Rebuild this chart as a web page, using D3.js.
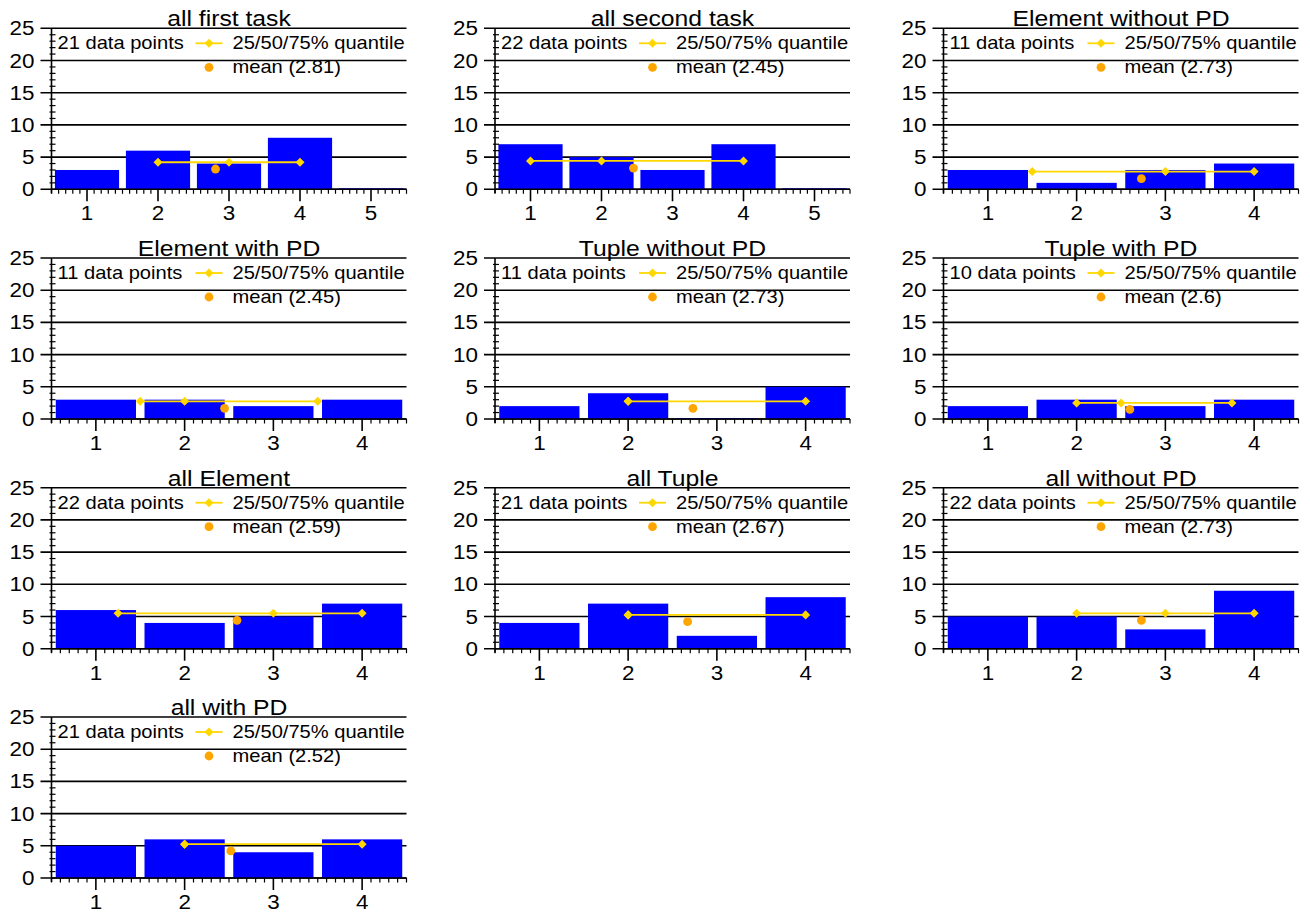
<!DOCTYPE html>
<html>
<head>
<meta charset="utf-8">
<script src="https://cdn.jsdelivr.net/npm/d3@7"></script>
<style>
  html, body { margin: 0; padding: 0; background: #fff; }
  svg { display: block; }
  text { font-family: "Liberation Sans", Arial, sans-serif; fill: #000; }
</style>
</head>
<body>
<svg id="chart" width="1310" height="913"></svg>
<script>
// ---------- data ----------
const titles = ["all first task", "all second task", "Element without PD",
  "Element with PD", "Tuple without PD", "Tuple with PD",
  "all Element", "all Tuple", "all without PD", "all with PD"];
const counts = [
  [3, 6, 4, 8, 0],
  [7, 5, 3, 7, 0],
  [3, 1, 3, 4],
  [3, 3, 2, 3],
  [2, 4, 0, 5],
  [2, 3, 2, 3],
  [6, 4, 5, 7],
  [4, 7, 2, 8],
  [5, 5, 3, 9],
  [5, 6, 4, 6]
];
const dataPoints = [21, 22, 11, 11, 11, 10, 22, 21, 22, 21];
const quantiles = [
  [2, 3, 4], [1, 2, 4], [1.5, 3, 4], [1.5, 2, 3.5], [2, 2, 4],
  [2, 2.5, 3.75], [1.25, 3, 4], [2, 2, 4], [2, 3, 4], [2, 2, 4]
];
const means = [2.81, 2.45, 2.73, 2.45, 2.73, 2.6, 2.59, 2.67, 2.73, 2.52];
const quantileHeights = [4.2, 4.4, 2.75, 2.75, 2.75, 2.5, 5.5, 5.25, 5.5, 5.25];
const meanHeights = [3.15, 3.3, 1.65, 1.65, 1.65, 1.5, 4.4, 4.2, 4.4, 4.2];
const yTicks = [0, 5, 10, 15, 20, 25];
const yMax = 25;

// ---------- layout ----------
const colLefts = [51.5, 495, 943.5];
const rowTops = [28.3, 258, 487.7, 717];
const plotW = 355, plotH = 161;
const sx = 1.15; // horizontal text stretch

const svg = d3.select("#chart");

function addText(g, x, y, str, size, anchor) {
  g.append("g")
    .attr("transform", `translate(${x},${y}) scale(${sx},1)`)
    .append("text")
    .attr("x", 0).attr("y", 0)
    .attr("font-size", size)
    .attr("text-anchor", anchor || "start")
    .text(str);
}

titles.forEach((title, i) => {
  const col = i % 3, row = Math.floor(i / 3);
  const left = colLefts[col], top = rowTops[row];
  const vals = counts[i];
  const n = vals.length;
  const cats = d3.range(1, n + 1);

  const x = d3.scaleLinear().domain([0.5, n + 0.5]).range([left, left + plotW]);
  const y = d3.scaleLinear().domain([0, yMax]).range([top + plotH, top]);
  const g = svg.append("g");

  // gridlines (with major tick extension to the left)
  g.selectAll("line.grid").data(yTicks).enter().append("line")
    .attr("x1", left - 11).attr("x2", left + plotW)
    .attr("y1", d => y(d)).attr("y2", d => y(d))
    .attr("stroke", "#000").attr("stroke-width", 1.6);

  // bars
  const bw = (x(1.452) - x(0.548));
  g.selectAll("rect.bar").data(vals).enter().append("rect")
    .attr("x", (d, k) => x(cats[k]) - bw / 2)
    .attr("width", bw)
    .attr("y", d => d > 0 ? y(d) : y(0) - 1)
    .attr("height", d => d > 0 ? y(0) - y(d) : 1)
    .attr("fill", "#0000FF");

  // y axis line
  g.append("line")
    .attr("x1", left).attr("x2", left)
    .attr("y1", top).attr("y2", top + plotH + 4)
    .attr("stroke", "#000").attr("stroke-width", 1.6);
  // y minor ticks
  const yMinor = d3.range(0, yMax + 1).filter(v => v % 5 !== 0);
  g.selectAll("line.ymin").data(yMinor).enter().append("line")
    .attr("x1", left - 2).attr("x2", left + 4)
    .attr("y1", d => y(d)).attr("y2", d => y(d))
    .attr("stroke", "#000").attr("stroke-width", 1.2);
  // y tick labels
  yTicks.forEach(t => addText(g, left - 17, y(t) + 7, String(t), 19.5, "end"));

  // x axis
  g.append("line")
    .attr("x1", left).attr("x2", left + plotW)
    .attr("y1", y(0)).attr("y2", y(0))
    .attr("stroke", "#000").attr("stroke-width", 1.6);
  const xMinor = d3.range(5, (n + 0.5) * 10 + 1).map(v => v / 10)
    .filter(v => Math.abs(v - Math.round(v)) > 1e-6);
  g.selectAll("line.xmin").data(xMinor).enter().append("line")
    .attr("x1", d => x(d)).attr("x2", d => x(d))
    .attr("y1", y(0)).attr("y2", y(0) + 4.5)
    .attr("stroke", "#000").attr("stroke-width", 1.2);
  g.selectAll("line.xmaj").data(cats).enter().append("line")
    .attr("x1", d => x(d)).attr("x2", d => x(d))
    .attr("y1", y(0)).attr("y2", y(0) + 12)
    .attr("stroke", "#000").attr("stroke-width", 1.6);
  cats.forEach(c => addText(g, x(c), y(0) + 31, String(c), 19.5, "middle"));

  // quantile line
  const q = quantiles[i];
  const qy = y(quantileHeights[i]);
  g.append("line")
    .attr("x1", x(q[0])).attr("x2", x(q[2]))
    .attr("y1", qy).attr("y2", qy)
    .attr("stroke", "#FFD700").attr("stroke-width", 1.8);
  const diamond = d3.symbol().type(d3.symbolDiamond2).size(52);
  g.selectAll("path.q").data(q).enter().append("path")
    .attr("d", diamond)
    .attr("transform", d => `translate(${x(d)},${qy})`)
    .attr("fill", "#FFD700");

  // mean
  g.append("circle")
    .attr("cx", x(means[i])).attr("cy", y(meanHeights[i]))
    .attr("r", 4.4).attr("fill", "#FFA500");

  // title
  addText(g, left + plotW / 2, top - 2, title, 21.5, "middle");

  // legend
  addText(g, left + 6, top + 21, dataPoints[i] + " data points", 17.5, "start");
  const lx = left + 181;
  g.append("line")
    .attr("x1", lx - 37).attr("x2", lx - 10)
    .attr("y1", top + 15).attr("y2", top + 15)
    .attr("stroke", "#FFD700").attr("stroke-width", 1.8);
  g.append("path").attr("d", diamond)
    .attr("transform", `translate(${lx - 23.5},${top + 15})`)
    .attr("fill", "#FFD700");
  addText(g, lx, top + 21, "25/50/75% quantile", 17.5, "start");
  g.append("circle")
    .attr("cx", lx - 23.5).attr("cy", top + 39)
    .attr("r", 4.4).attr("fill", "#FFA500");
  addText(g, lx, top + 45, "mean (" + means[i] + ")", 17.5, "start");
});
</script>
</body>
</html>
